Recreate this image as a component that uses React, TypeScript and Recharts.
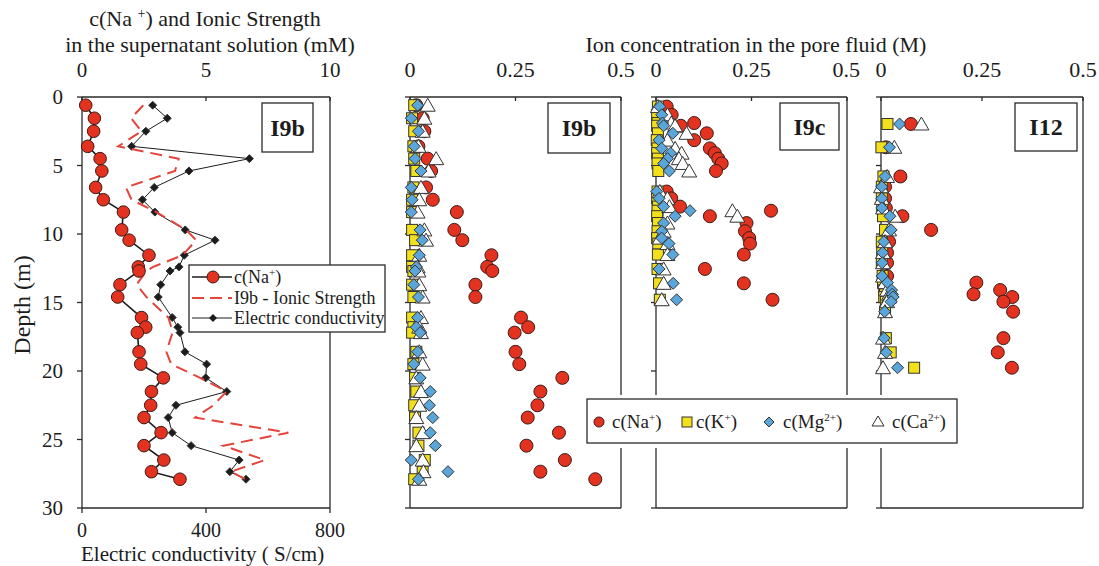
import React from 'react';
import { ScatterChart, Scatter, XAxis, YAxis, ReferenceLine } from 'recharts';

const SERIF = "'Liberation Serif', 'Times New Roman', serif";
const INK = '#1c1c1c';
const RED = '#E3321F';
const RED_DASH = '#E5443A';
const YELLOW = '#F3E01C';
const BLUE = '#5AA6DA';

// I9b sampling depths (m), shared by supernatant and pore fluid data
const i9bDepth = [0.6, 1.55, 2.5, 3.6, 4.5, 5.4, 6.6, 7.5, 8.4, 9.7, 10.45, 11.55, 12.4, 12.7, 13.7, 14.6, 16.1, 16.8, 17.2, 18.6, 19.5, 20.5, 21.5, 22.5, 23.4, 24.5, 25.45, 26.5, 27.35, 27.9];

// supernatant solution, mM
const supNa = [0.15, 0.5, 0.47, 0.23, 0.73, 0.8, 0.55, 0.86, 1.67, 1.6, 1.9, 2.7, 2.27, 2.3, 1.53, 1.44, 2.4, 2.57, 2.23, 2.3, 2.37, 3.28, 2.8, 2.77, 2.5, 3.19, 2.5, 3.3, 2.8, 3.95];
const supIonic = [2.47, 1.98, 2.4, 1.46, 3.9, 3.75, 1.77, 2.0, 3.0, 4.2, 4.6, 4.06, 2.87, 2.6, 2.2, 2.6, 3.48, 3.6, 3.65, 3.4, 3.6, 4.76, 5.83, 5.3, 4.56, 8.32, 5.7, 7.38, 6.0, 6.6];
// electric conductivity, S/cm
const supEC = [228, 275, 206, 160, 540, 345, 233, 195, 235, 333, 429, 330, 313, 284, 254, 246, 291, 309, 316, 332, 402, 399, 467, 303, 278, 291, 352, 507, 477, 529];

// pore fluid I9b, M
const i9bNa = [0.015, 0.03, 0.034, 0.02, 0.042, 0.05, 0.038, 0.054, 0.111, 0.105, 0.124, 0.193, 0.183, 0.195, 0.155, 0.155, 0.263, 0.28, 0.248, 0.25, 0.259, 0.361, 0.309, 0.302, 0.279, 0.353, 0.276, 0.367, 0.309, 0.439];
const i9bK = [0.01, 0.005, 0.01, 0.008, 0.01, 0.015, 0.008, 0.005, 0.005, 0.005, 0.012, 0.005, 0.005, 0.008, 0.005, 0.008, 0.005, 0.008, 0.005, 0.015, 0.008, 0.012, 0.015, 0.01, 0.012, 0.02, 0.02, 0.035, 0.03, 0.01];
const i9bMg = [0.018, 0.003, 0.02, 0.01, 0.012, 0.026, 0.003, 0.005, 0.003, 0.024, 0.029, 0.022, 0.015, 0.012, 0.009, 0.02, 0.018, 0.015, 0.024, 0.018, 0.009, 0.024, 0.048, 0.046, 0.054, 0.048, 0.06, 0.003, 0.09, 0.02];
const i9bCa = [0.042, 0.034, 0.03, 0.02, 0.062, 0.044, 0.026, 0.022, 0.018, 0.034, 0.038, 0.022, 0.018, 0.02, 0.022, 0.03, 0.026, 0.022, 0.026, 0.022, 0.03, 0.015, 0.026, 0.022, 0.015, 0.03, 0.015, 0.03, 0.032, 0.022];

// pore fluid I9c, M
const i9cDepth = [0.7, 1.3, 1.9, 2.1, 2.65, 3.15, 3.75, 4.1, 4.5, 4.85, 5.4, 6.9, 7.4, 8.0, 8.3, 8.7, 9.2, 9.8, 10.3, 10.7, 11.5, 12.55, 13.6, 14.8];
const i9cNa = [0.028, 0.041, 0.1, 0.065, 0.133, 0.1, 0.141, 0.154, 0.163, 0.172, 0.157, 0.028, 0.04, 0.063, 0.301, 0.141, 0.237, 0.233, 0.244, 0.246, 0.23, 0.128, 0.23, 0.305];
const i9cK = [0.005, 0.003, 0.004, 0.003, 0.005, 0.002, 0.004, 0.003, 0.005, 0.004, 0.006, 0.004, 0.003, 0.005, 0.004, 0.003, 0.005, 0.004, 0.003, 0.006, 0.005, 0.004, 0.008, 0.01];
const i9cMg = [0.01, 0.015, 0.017, 0.02, 0.044, 0.008, 0.015, 0.038, 0.03, 0.02, 0.035, 0.002, 0.008, 0.02, 0.089, 0.05, 0.02, 0.015, 0.015, 0.034, 0.044, 0.008, 0.045, 0.054];
const i9cCa = [0.005, 0.03, 0.04, 0.05, 0.08, 0.03, 0.05, 0.067, 0.06, 0.07, 0.087, 0.01, 0.03, 0.035, 0.2, 0.213, 0.03, 0.02, 0.01, 0.03, 0.03, 0.02, 0.02, 0.015];

// pore fluid I12, M
const i12Depth = [1.97, 3.67, 5.8, 6.55, 7.4, 8.1, 8.7, 9.7, 10.56, 11.36, 12.1, 13.07, 13.55, 14.09, 14.4, 14.6, 14.94, 15.67, 17.6, 18.64, 19.76];
const i12Na = [0.074, 0.012, 0.048, 0.01, 0.01, 0.012, 0.053, 0.124, 0.02, 0.015, 0.015, 0.015, 0.236, 0.295, 0.229, 0.325, 0.303, 0.327, 0.303, 0.289, 0.324];
const i12K = [0.016, 0.001, 0.006, 0.002, 0.002, 0.003, 0.005, 0.01, 0.002, 0.003, 0.002, 0.004, 0.005, 0.008, 0.01, 0.008, 0.012, 0.01, 0.012, 0.024, 0.082];
const i12Mg = [0.046, 0.021, 0.01, 0.002, 0.002, 0.002, 0.022, 0.025, 0.007, 0.004, 0.003, 0.003, 0.016, 0.026, 0.028, 0.03, 0.025, 0.009, 0.008, 0.013, 0.041];
const i12Ca = [0.1, 0.033, 0.015, 0.0, 0.002, 0.005, 0.035, 0.02, 0.01, 0.005, 0.005, 0.005, 0.01, 0.015, 0.02, 0.02, 0.015, 0.01, 0.005, 0.01, 0.005];

const depthTicks = [0, 5, 10, 15, 20, 25, 30];
const mmTicks = [0, 5, 10];
const ecTicks = [0, 400, 800];
const poreTicks = [0, 0.25, 0.5];

const pts = (depth: number[], vals: number[]) => depth.map((d, i) => ({ x: vals[i], y: d }));

const axisLine = { stroke: '#2a2a2a', strokeWidth: 1.3 };
const tickText = (size: number) => ({ style: { fontFamily: SERIF }, fontSize: size, fill: INK });

const dot = (r: number) => (p: any) => (
  <circle cx={p.cx} cy={p.cy} r={r} fill={RED} stroke="#3a1c18" strokeWidth={1} />
);
const square = (p: any) => (
  <rect x={p.cx - 5.5} y={p.cy - 5.5} width={11} height={11} fill={YELLOW} stroke="#333" strokeWidth={1} />
);
const diamond = (h: number, fill: string) => (p: any) => (
  <polygon
    points={`${p.cx},${p.cy - h} ${p.cx + h},${p.cy} ${p.cx},${p.cy + h} ${p.cx - h},${p.cy}`}
    fill={fill}
    stroke="#333"
    strokeWidth={1}
  />
);
const triangle = (p: any) => (
  <polygon
    points={`${p.cx},${p.cy - 7} ${p.cx + 7.5},${p.cy + 6} ${p.cx - 7.5},${p.cy + 6}`}
    fill="#fff"
    stroke="#333"
    strokeWidth={1}
  />
);
const noShape = () => <g />;

function SupernatantPanel() {
  return (
    <div style={{ position: 'absolute', left: 0, top: 0 }}>
      <ScatterChart width={345} height={566} margin={{ top: 37, right: 15, bottom: 28, left: 42 }}>
        <XAxis xAxisId="mm" orientation="top" type="number" dataKey="x" domain={[0, 10]} ticks={mmTicks}
          height={60} tickSize={-4} tickMargin={24} tick={tickText(21)} axisLine={axisLine} tickLine={axisLine} />
        <XAxis xAxisId="ec" orientation="bottom" type="number" dataKey="x" domain={[0, 800]} ticks={ecTicks}
          height={30} tickSize={5} tickMargin={10} tick={tickText(20)} axisLine={axisLine} tickLine={axisLine} />
        <YAxis yAxisId="d" type="number" dataKey="y" domain={[0, 30]} reversed ticks={depthTicks}
          width={40} tickSize={5} tickMargin={14} tick={tickText(21)} axisLine={axisLine} tickLine={axisLine} />
        <ReferenceLine xAxisId="mm" yAxisId="d" x={10} stroke="#2a2a2a" strokeWidth={1.3} />
        <Scatter xAxisId="ec" yAxisId="d" data={pts(i9bDepth, supEC)} shape={diamond(4, INK)}
          line={{ stroke: INK, strokeWidth: 1 }} lineType="joint" isAnimationActive={false} />
        <Scatter xAxisId="mm" yAxisId="d" data={pts(i9bDepth, supIonic)} shape={noShape}
          line={{ stroke: RED_DASH, strokeWidth: 2, strokeDasharray: '12 7' }} lineType="joint" isAnimationActive={false} />
        <Scatter xAxisId="mm" yAxisId="d" data={pts(i9bDepth, supNa)} shape={dot(6.3)}
          line={{ stroke: INK, strokeWidth: 1.6 }} lineType="joint" isAnimationActive={false} />
      </ScatterChart>
    </div>
  );
}

interface PoreProps {
  left: number;
  width: number;
  ml: number;
  mr: number;
  depth: number[];
  na: number[];
  k: number[];
  mg: number[];
  ca: number[];
}

function PorePanel({ left, width, ml, mr, depth, na, k, mg, ca }: PoreProps) {
  return (
    <div style={{ position: 'absolute', left, top: 0 }}>
      <ScatterChart width={width} height={566} margin={{ top: 37, right: mr, bottom: 58, left: ml }}>
        <XAxis orientation="top" type="number" dataKey="x" domain={[0, 0.5]} ticks={poreTicks}
          height={60} tickSize={-4} tickMargin={24} tick={tickText(22)} axisLine={axisLine} tickLine={axisLine} />
        <YAxis type="number" dataKey="y" domain={[0, 30]} reversed ticks={depthTicks} width={10}
          tickSize={5} tickFormatter={() => ''} axisLine={axisLine} tickLine={axisLine} />
        <ReferenceLine x={0.5} stroke="#2a2a2a" strokeWidth={1.3} />
        <ReferenceLine y={30} stroke="#2a2a2a" strokeWidth={1.3} />
        <Scatter data={pts(depth, na)} shape={dot(6.5)} isAnimationActive={false} />
        <Scatter data={pts(depth, k)} shape={square} isAnimationActive={false} />
        <Scatter data={pts(depth, ca)} shape={triangle} isAnimationActive={false} />
        <Scatter data={pts(depth, mg)} shape={diamond(6, BLUE)} isAnimationActive={false} />
      </ScatterChart>
    </div>
  );
}

const T = { style: { fontFamily: SERIF }, fill: INK };

function TagBox({ x, y, w, h, label }: { x: number; y: number; w: number; h: number; label: string }) {
  return (
    <g>
      <rect x={x} y={y} width={w} height={h} fill="#fff" stroke="#2a2a2a" strokeWidth={1.3} />
      <text x={x + w / 2} y={y + h / 2 + 8} textAnchor="middle" fontSize={24} fontWeight="bold" {...T}>{label}</text>
    </g>
  );
}

function Overlay() {
  return (
    <svg width={1099} height={566} style={{ position: 'absolute', left: 0, top: 0, pointerEvents: 'none' }}>
      <text x={205} y={26} textAnchor="middle" fontSize={22} {...T}>
        c(Na <tspan dy={-8} fontSize={14}>+</tspan><tspan dy={8}>) and Ionic Strength</tspan>
      </text>
      <text x={210} y={52} textAnchor="middle" fontSize={22} {...T}>in the supernatant solution (mM)</text>
      <text x={756} y={52} textAnchor="middle" fontSize={22} {...T}>Ion concentration in the pore fluid (M)</text>
      <text x={81} y={561} fontSize={21} {...T}>Electric conductivity ( S/cm)</text>
      <text transform="translate(30,305) rotate(-90)" textAnchor="middle" fontSize={24} {...T}>Depth (m)</text>

      <TagBox x={262} y={103} w={51} h={49} label="I9b" />
      <TagBox x={548} y={103} w={62} h={50} label="I9b" />
      <TagBox x={780} y={103} w={59} h={47} label="I9c" />
      <TagBox x={1015} y={103} w={62} h={48} label="I12" />

      {/* legend, supernatant panel */}
      <rect x={189} y={265} width={196} height={67} fill="#fff" stroke="#2a2a2a" strokeWidth={1.3} />
      <line x1={192} y1={277} x2={232} y2={277} stroke={INK} strokeWidth={1.6} />
      <circle cx={213} cy={277} r={6} fill={RED} stroke="#3a1c18" strokeWidth={1} />
      <text x={234} y={283} fontSize={18} {...T}>c(Na<tspan dy={-7} fontSize={11}>+</tspan><tspan dy={7}>)</tspan></text>
      <line x1={192} y1={298} x2={232} y2={298} stroke={RED_DASH} strokeWidth={2} strokeDasharray="12 6" />
      <text x={234} y={304} fontSize={18} {...T}>I9b - Ionic Strength</text>
      <line x1={192} y1={318} x2={232} y2={318} stroke={INK} strokeWidth={1} />
      <polygon points="213,314 217,318 213,322 209,318" fill={INK} />
      <text x={234} y={324} fontSize={18} {...T}>Electric conductivity</text>

      {/* legend, pore fluid panels */}
      <rect x={583} y={395} width={378} height={53} fill="#fff" />
      <rect x={587} y={399} width={370} height={44} fill="#fff" stroke="#2a2a2a" strokeWidth={1.3} />
      <circle cx={599} cy={422} r={5} fill={RED} stroke="#3a1c18" strokeWidth={1} />
      <text x={612} y={428} fontSize={19} {...T}>c(Na<tspan dy={-7} fontSize={11}>+</tspan><tspan dy={7}>)</tspan></text>
      <rect x={682} y={417} width={10} height={10} fill={YELLOW} stroke="#333" strokeWidth={1} />
      <text x={696} y={428} fontSize={19} {...T}>c(K<tspan dy={-7} fontSize={11}>+</tspan><tspan dy={7}>)</tspan></text>
      <polygon points="769,417 774,422 769,427 764,422" fill={BLUE} stroke="#333" strokeWidth={1} />
      <text x={783} y={428} fontSize={19} {...T}>c(Mg<tspan dy={-7} fontSize={11}>2+</tspan><tspan dy={7}>)</tspan></text>
      <polygon points="878,416 884,426 872,426" fill="#fff" stroke="#333" strokeWidth={1} />
      <text x={892} y={428} fontSize={19} {...T}>c(Ca<tspan dy={-7} fontSize={11}>2+</tspan><tspan dy={7}>)</tspan></text>
    </svg>
  );
}

export default function App() {
  return (
    <div style={{ position: 'absolute', left: 0, top: 0, width: 1099, height: 566, background: '#fff', overflow: 'hidden' }}>
      <SupernatantPanel />
      <PorePanel left={370} width={265} ml={30} mr={14} depth={i9bDepth} na={i9bNa} k={i9bK} mg={i9bMg} ca={i9bCa} />
      <PorePanel left={620} width={240} ml={26} mr={13} depth={i9cDepth} na={i9cNa} k={i9cK} mg={i9cMg} ca={i9cCa} />
      <PorePanel left={845} width={254} ml={26} mr={16} depth={i12Depth} na={i12Na} k={i12K} mg={i12Mg} ca={i12Ca} />
      <Overlay />
    </div>
  );
}
